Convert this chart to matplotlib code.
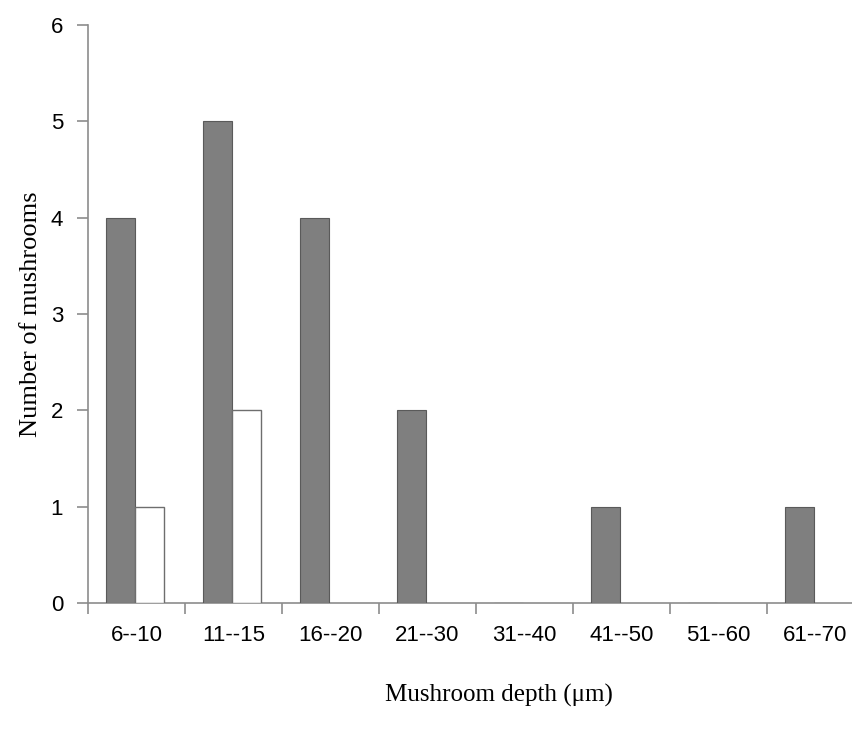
import matplotlib

matplotlib.use("Agg")
import matplotlib.pyplot as plt
import numpy as np

# ---------------------------------------------------------------------------
# Data
# ---------------------------------------------------------------------------
categories = ["6--10", "11--15", "16--20", "21--30", "31--40", "41--50", "51--60", "61--70"]
dark_counts = [4, 5, 4, 2, 0, 1, 0, 1]
white_counts = [1, 2, 0, 0, 0, 0, 0, 0]
y_ticks = [0, 1, 2, 3, 4, 5, 6]

AXIS_GRAY = "#8c8c8c"
SANS = "Liberation Sans"
SERIF = "Liberation Serif"

fig = plt.figure(figsize=(8.52, 7.32), dpi=100)
ax = fig.add_axes([88 / 852, (732 - 603) / 732, 776 / 852, 578 / 732])

x = np.arange(len(categories))
bar_w = 0.30
ax.bar(x - 0.165, dark_counts, width=bar_w, color="#7f7f7f",
       edgecolor="#5a5a5a", linewidth=0.8, zorder=3)
# only draw the white bars that have a value
white_x = [xi for xi, v in zip(x, white_counts) if v > 0]
white_v = [v for v in white_counts if v > 0]
ax.bar(np.array(white_x) + 0.135, white_v, width=bar_w, color="white",
       edgecolor="#6e6e6e", linewidth=1.0, zorder=3)

ax.set_xlim(-0.5, len(categories) - 0.5)
ax.set_ylim(0, 6)

for side in ("top", "right"):
    ax.spines[side].set_visible(False)
for side in ("left", "bottom"):
    ax.spines[side].set_color(AXIS_GRAY)
    ax.spines[side].set_linewidth(1.2)

ax.set_yticks(y_ticks)
ax.set_yticklabels([str(v) for v in y_ticks], fontfamily=SANS, fontsize=16)
ax.tick_params(axis="y", direction="out", length=8, width=1.2, color=AXIS_GRAY, pad=10)

ax.set_xticks(x)
ax.set_xticklabels(categories, fontfamily=SANS, fontsize=16)
ax.tick_params(axis="x", which="major", length=0, pad=16)
ax.set_xticks(np.arange(len(categories) + 1) - 0.5, minor=True)
ax.tick_params(axis="x", which="minor", direction="out", length=8, width=1.2, color=AXIS_GRAY)

ax.set_xlabel("Mushroom depth (\u03bcm)", fontfamily=SERIF, fontsize=18)
ax.xaxis.set_label_coords(0.53, -0.14)
ax.set_ylabel("Number of mushrooms", fontfamily=SERIF, fontsize=19, labelpad=6)

fig.savefig("out.png", dpi=100)
